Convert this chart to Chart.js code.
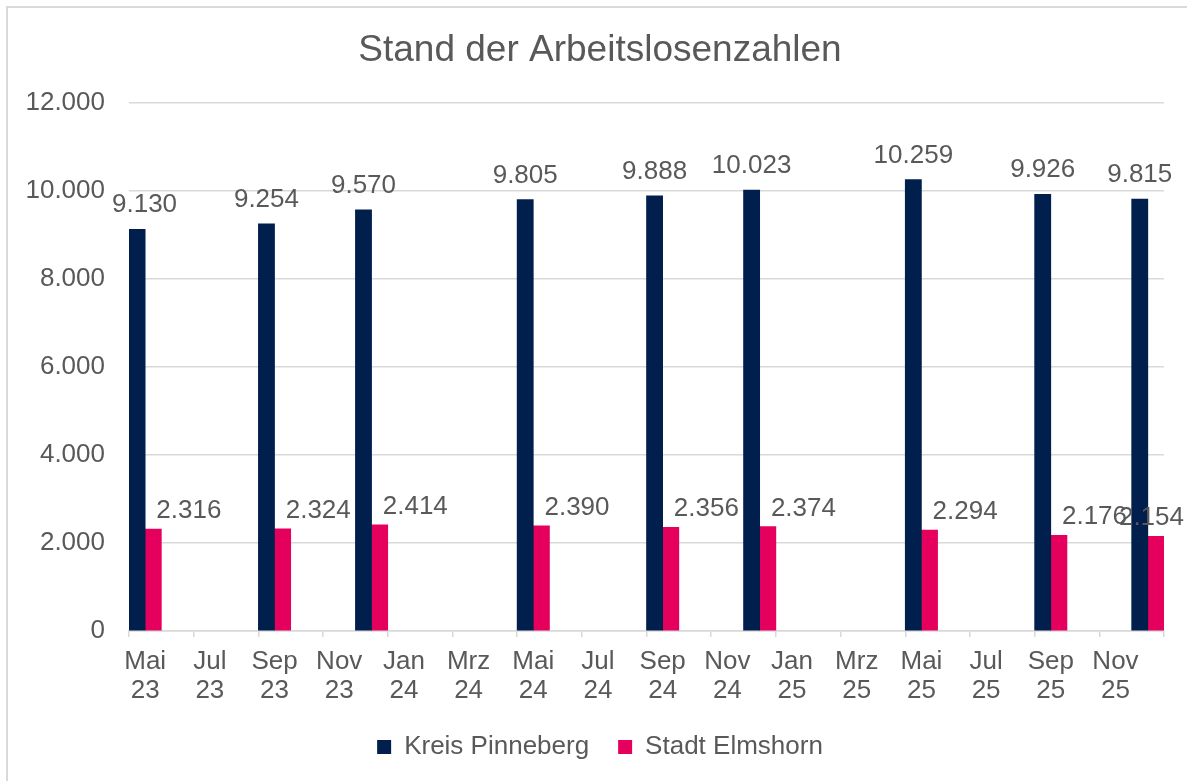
<!DOCTYPE html>
<html lang="de">
<head>
  <meta charset="UTF-8" />
  <title>Stand der Arbeitslosenzahlen</title>
  <style>
    body {
      margin: 0;
      padding: 0;
      background: #fff;
      overflow: hidden;
    }

    .rahmen {
      position: absolute;
      left: 6px;
      top: 6px;
      width: 1400px;
      height: 1000px;
      border: 2px solid #d9d9d9;
    }

    .chart-box {
      position: absolute;
      left: 0;
      top: 0;
      width: 1200px;
      height: 781px;
    }
  </style>
  <script src="https://cdn.jsdelivr.net/npm/chart.js"></script>
</head>
<body>

  <div class="rahmen"></div>
  <div class="chart-box">
    <canvas id="chartArbeitslose" width="1200" height="781"></canvas>
  </div>

  <script>
    // Monate auf der Achse (Mai 23 bis Dez 25)
    const monate = [
      'Mai 23', 'Jun 23', 'Jul 23', 'Aug 23', 'Sep 23', 'Okt 23', 'Nov 23', 'Dez 23',
      'Jan 24', 'Feb 24', 'Mrz 24', 'Apr 24', 'Mai 24', 'Jun 24', 'Jul 24', 'Aug 24',
      'Sep 24', 'Okt 24', 'Nov 24', 'Dez 24', 'Jan 25', 'Feb 25', 'Mrz 25', 'Apr 25',
      'Mai 25', 'Jun 25', 'Jul 25', 'Aug 25', 'Sep 25', 'Okt 25', 'Nov 25', 'Dez 25'
    ];
    // Stichtage mit Werten
    const stichtage = ['Mai 23', 'Sep 23', 'Dez 23', 'Mai 24', 'Sep 24', 'Dez 24', 'Mai 25', 'Sep 25', 'Dez 25'];
    const kreisPinneberg = [9130, 9254, 9570, 9805, 9888, 10023, 10259, 9926, 9815];
    const stadtElmshorn = [2316, 2324, 2414, 2390, 2356, 2374, 2294, 2176, 2154];
    const yTicks = [0, 2000, 4000, 6000, 8000, 10000, 12000];

    const grau = '#595959';
    const linie = '#d9d9d9';

    Chart.defaults.font.family = "'Liberation Sans', Arial, sans-serif";
    Chart.defaults.color = grau;

    function tausender(v) {
      return String(v).replace(/\B(?=(\d{3})+(?!\d))/g, '.');
    }

    function aufMonate(werte) {
      return monate.map(m => {
        const i = stichtage.indexOf(m);
        return i >= 0 ? werte[i] : null;
      });
    }

    // Werte über den Säulen
    const wertLabels = {
      id: 'wertLabels',
      afterDatasetsDraw(chart) {
        const ctx = chart.ctx;
        ctx.save();
        ctx.font = "26px 'Liberation Sans', Arial, sans-serif";
        ctx.fillStyle = grau;
        ctx.textBaseline = 'alphabetic';
        chart.data.datasets.forEach((ds, di) => {
          const meta = chart.getDatasetMeta(di);
          meta.data.forEach((bar, i) => {
            const v = ds.data[i];
            if (v === null) return;
            const text = tausender(v);
            const w = ctx.measureText(text).width;
            if (di === 0) {
              // nicht in die Achsenbeschriftung laufen
              let x = bar.x;
              if (x - w / 2 < 112) x = 112 + w / 2;
              ctx.textAlign = 'center';
              ctx.fillText(text, x, bar.y - 17);
            } else {
              let x = bar.x + bar.width / 2 - 5;
              if (x + w > 1184) x = 1184 - w;
              ctx.textAlign = 'left';
              ctx.fillText(text, x, bar.y - 11);
            }
          });
        });
        ctx.restore();
      }
    };

    const ctx = document.getElementById('chartArbeitslose').getContext('2d');
    const chart = new Chart(ctx, {
      type: 'bar',
      data: {
        labels: monate,
        datasets: [
          { label: 'Kreis Pinneberg', data: aufMonate(kreisPinneberg), backgroundColor: '#001F4D' },
          { label: 'Stadt Elmshorn', data: aufMonate(stadtElmshorn), backgroundColor: '#E6005E' }
        ]
      },
      options: {
        responsive: false,
        animation: false,
        datasets: {
          bar: { categoryPercentage: 1, barPercentage: 1 }
        },
        layout: {
          padding: { left: 0, right: 0, top: 0, bottom: 11 }
        },
        plugins: {
          title: {
            display: true,
            text: 'Stand der Arbeitslosenzahlen',
            color: grau,
            font: { size: 37, weight: 'normal', lineHeight: 1.2 },
            padding: { top: 29, bottom: 29.6 }
          },
          legend: {
            position: 'bottom',
            labels: {
              boxWidth: 14,
              boxHeight: 14,
              padding: 29,
              color: grau,
              font: { size: 26 }
            }
          },
          tooltip: { enabled: false }
        },
        scales: {
          x: {
            offset: true,
            grid: {
              offset: true,
              drawOnChartArea: false,
              drawTicks: true,
              tickLength: 6,
              lineWidth: 1.5,
              color: (c) => (c.index === undefined || c.index % 2 === 0) ? linie : 'rgba(0,0,0,0)'
            },
            border: { display: true, color: linie, width: 1.5 },
            ticks: {
              autoSkip: false,
              maxRotation: 0,
              minRotation: 0,
              padding: 10,
              color: grau,
              font: { size: 26, lineHeight: 1.115 },
              callback: (val, i) => i % 2 === 0 ? monate[i].split(' ') : ''
            },
            afterFit: (scale) => { scale.height = 74; }
          },
          y: {
            min: 0,
            max: 12000,
            afterBuildTicks: (scale) => { scale.ticks = yTicks.map(v => ({ value: v })); },
            grid: { color: linie, lineWidth: 1.5, drawTicks: false },
            border: { display: false },
            ticks: {
              padding: 24,
              color: grau,
              font: { size: 26 },
              callback: (v) => tausender(v)
            },
            afterFit: (scale) => { scale.width = 129; }
          },
          // leerer Rand rechts, damit Titel und Legende mittig sitzen
          rand: {
            type: 'linear',
            position: 'right',
            grid: { display: false },
            border: { display: false },
            ticks: { display: false },
            afterFit: (scale) => { scale.width = 36; }
          }
        }
      },
      plugins: [wertLabels]
    });
  </script>

</body>
</html>
